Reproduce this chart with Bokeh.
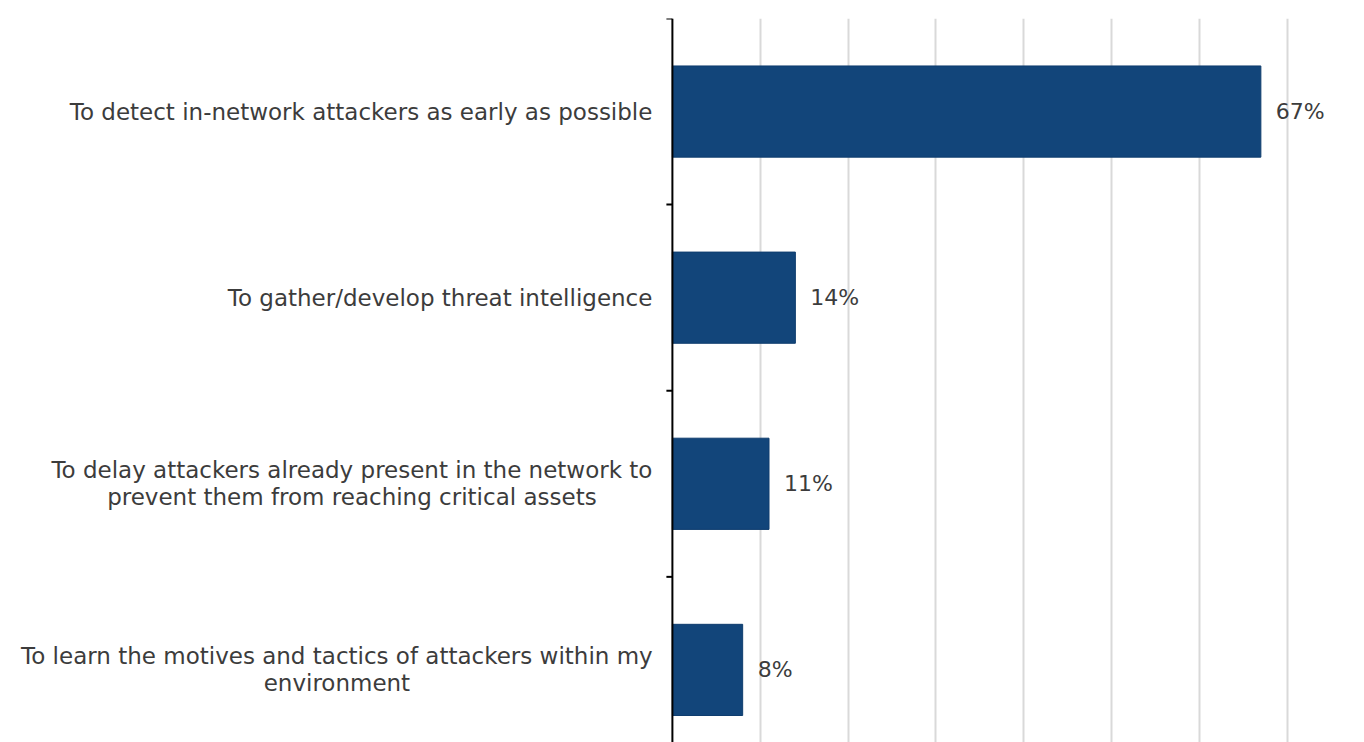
import math
from bokeh.plotting import figure
from bokeh.models import Range1d, FixedTicker, Span
from bokeh.core.properties import value
from bokeh.embed import file_html
from bokeh.resources import INLINE

categories = [
    "To detect in-network attackers as early as possible",
    "To gather/develop threat intelligence",
    "To delay attackers already present in the network to\nprevent them from reaching critical assets",
    "To learn the motives and tactics of attackers within my\nenvironment",
]
values = [67, 14, 11, 8]
value_labels = ["67%", "14%", "11%", "8%"]
grid_ticks = [10, 20, 30, 40, 50, 60, 70, 80]
boundary_ticks = [-0.5, 0.5, 1.5, 2.5]

FONT = "DejaVu Sans"
FS = 23
LINE_H = 27
TEXT_COLOR = "#3c3c3c"

p = figure(width=1364, height=742, output_backend="svg", toolbar_location=None,
           x_range=Range1d(-76.5, 78.8), y_range=Range1d(3.39, -0.5),
           x_axis_location=None, y_axis_location=None,
           min_border_left=0, min_border_top=18, min_border_bottom=0, min_border_right=0)
p.outline_line_color = None
p.background_fill_color = "white"
p.border_fill_color = "white"

p.xgrid.ticker = FixedTicker(ticks=grid_ticks)
p.xgrid.grid_line_color = "#d9d9d9"
p.xgrid.grid_line_width = 2
p.ygrid.visible = False

ys = list(range(len(categories)))
p.hbar(y=ys, right=values, left=0, height=0.49, fill_color="#12457A", line_color="#0f3d6e", line_width=1)

# category axis line and boundary ticks
p.add_layout(Span(location=0, dimension="height", line_color="black", line_width=2))
p.ray(x=[0] * len(boundary_ticks), y=boundary_ticks, length=6, length_units="screen", angle=math.pi,
      line_color="black", line_width=2)

# value labels
p.text(x=values, y=ys, text=value_labels, x_offset=15, text_align="left", text_baseline="middle",
       text_font=value(FONT), text_font_size="22px", text_color=TEXT_COLOR)

# category labels: each line separately; multi-line blocks are centered under their widest line
first_w = {2: 601, 3: 631}
for i, c in enumerate(categories):
    lines = c.split("\n")
    n = len(lines)
    for j, ln in enumerate(lines):
        if n == 1:
            xo, align = -20, "right"
        else:
            xo, align = -20 - first_w[i] / 2, "center"
        p.text(x=[0], y=[i], text=[ln], x_offset=xo, y_offset=(j - (n - 1) / 2) * LINE_H,
               text_align=align, text_baseline="middle",
               text_font=value(FONT), text_font_size=f"{FS}px", text_color=TEXT_COLOR)

open("out.html", "w").write(file_html(p, INLINE))
